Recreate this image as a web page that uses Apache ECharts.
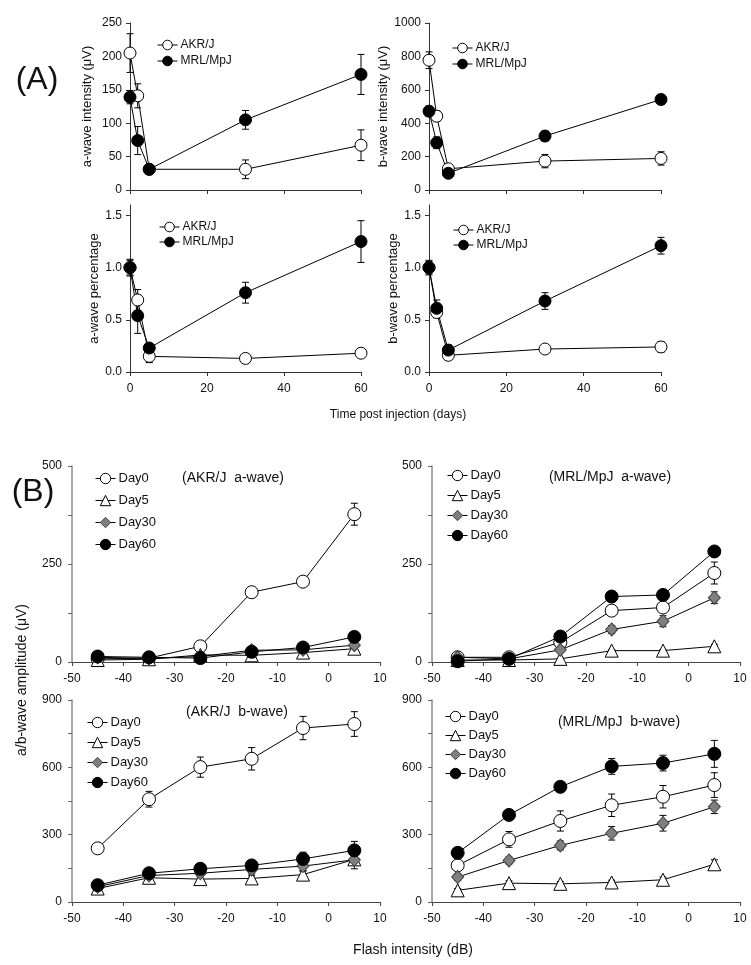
<!DOCTYPE html>
<html><head><meta charset="utf-8">
<script src="https://cdn.jsdelivr.net/npm/echarts@6/dist/echarts.min.js"></script>
<style>html,body{margin:0;padding:0;background:#fff;}#c{width:751px;height:965px;}</style>
</head><body><div id="c"></div>
<script>
const FONT = '"Liberation Sans", Arial, sans-serif';

// ---------- Panel A : time course ----------
const daysA = [0, 2, 5, 30, 60];
const daysTicks = [0, 20, 40, 60];
const aIntAKR = [205, 141, 31, 31, 67];
const aIntAKRErr = [29, 18, 5, 14, 23];
const aIntMRL = [139, 74, 31, 105, 173];
const aIntMRLErr = [10, 21, 5, 14, 30];
const bIntAKR = [777, 442, 127, 173, 189];
const bIntAKRErr = [50, 30, 20, 40, 40];
const bIntMRL = [472, 283, 100, 323, 542];
const bIntMRLErr = [30, 35, 25, 30, 30];
const aPctAKR = [1.0, 0.69, 0.15, 0.13, 0.18];
const aPctAKRErr = [0.07, 0.1, 0.06, 0.02, 0.03];
const aPctMRL = [1.0, 0.54, 0.23, 0.76, 1.25];
const aPctMRLErr = [0.08, 0.17, 0.04, 0.1, 0.2];
const bPctAKR = [1.0, 0.57, 0.16, 0.22, 0.24];
const bPctAKRErr = [0.06, 0.05, 0.03, 0.04, 0.05];
const bPctMRL = [1.0, 0.61, 0.21, 0.68, 1.21];
const bPctMRLErr = [0.07, 0.08, 0.05, 0.08, 0.08];
const aIntTicks = [0, 50, 100, 150, 200, 250];
const bIntTicks = [0, 200, 400, 600, 800, 1000];
const pctTicks = [0, 0.5, 1.0, 1.5];
const pctMax = 1.6;

// ---------- Panel B : intensity response ----------
const flashDB = [-45, -35, -25, -15, -5, 5];
const dbTicks = [-50, -40, -30, -20, -10, 0, 10];
const dayNames = ['Day0', 'Day5', 'Day30', 'Day60'];
const akrA_d0 = [8, 10, 40, 178, 205, 377];
const akrA_d5 = [5, 7, 18, 17, 24, 34];
const akrA_d30 = [12, 9, 14, 30, 31, 43];
const akrA_d60 = [14, 12, 10, 26, 37, 64];
const akrA_d0e = [3, 3, 5, 8, 10, 28];
const akrA_d5e = [2, 2, 3, 3, 4, 6];
const akrA_d30e = [3, 3, 3, 5, 5, 8];
const akrA_d60e = [3, 3, 3, 5, 5, 8];
const mrlA_d0 = [12, 12, 50, 131, 139, 227];
const mrlA_d5 = [5, 5, 8, 29, 29, 40];
const mrlA_d30 = [12, 8, 31, 83, 104, 164];
const mrlA_d60 = [2, 8, 65, 167, 171, 282];
const mrlA_d0e = [3, 3, 5, 8, 10, 28];
const mrlA_d5e = [2, 2, 2, 3, 3, 5];
const mrlA_d30e = [3, 3, 5, 10, 14, 15];
const mrlA_d60e = [3, 3, 5, 8, 8, 10];
const akrB_d0 = [239, 458, 601, 638, 775, 793];
const akrB_d5 = [60, 108, 102, 105, 122, 190];
const akrB_d30 = [68, 118, 128, 145, 160, 188];
const akrB_d60 = [75, 128, 148, 163, 192, 230];
const akrB_d0e = [15, 35, 45, 50, 52, 55];
const akrB_d5e = [10, 12, 12, 12, 15, 25];
const akrB_d30e = [10, 15, 15, 20, 20, 40];
const akrB_d60e = [10, 15, 15, 20, 30, 40];
const mrlB_d0 = [163, 279, 361, 431, 469, 521];
const mrlB_d5 = [52, 84, 81, 87, 99, 168];
const mrlB_d30 = [111, 185, 252, 306, 351, 424];
const mrlB_d60 = [219, 388, 513, 604, 619, 660];
const mrlB_d0e = [20, 35, 45, 50, 50, 55];
const mrlB_d5e = [8, 10, 10, 10, 12, 20];
const mrlB_d30e = [15, 15, 20, 30, 35, 30];
const mrlB_d60e = [20, 20, 15, 35, 35, 60];
const aAmpTicks = [0, 125, 250, 375, 500];
const aAmpLabels = [0, 250, 500];
const bAmpTicks = [0, 150, 300, 450, 600, 750, 900];
const bAmpLabels = [0, 300, 600, 900];

// ---------- styles ----------
const MARK = {
  'AKR/J': {symbol: 'circle', fill: '#fff', stroke: '#000'},
  'MRL/MpJ': {symbol: 'circle', fill: '#000', stroke: '#000'},
  'Day0': {symbol: 'circle', fill: '#fff', stroke: '#000'},
  'Day5': {symbol: 'triangle', fill: '#fff', stroke: '#000'},
  'Day30': {symbol: 'diamond', fill: '#7f7f7f', stroke: '#404040'},
  'Day60': {symbol: 'circle', fill: '#000', stroke: '#000'}
};

function errRender(params, api) {
  const x = api.value(0), y = api.value(1), e = api.value(2);
  const t = api.coord([x, y + e]);
  const b = api.coord([x, y - e]);
  const hw = 3.5;
  const st = {stroke: '#000', lineWidth: 1};
  return {type: 'group', children: [
    {type: 'line', shape: {x1: t[0], y1: t[1], x2: b[0], y2: b[1]}, style: st},
    {type: 'line', shape: {x1: t[0] - hw, y1: t[1], x2: t[0] + hw, y2: t[1]}, style: st},
    {type: 'line', shape: {x1: b[0] - hw, y1: b[1], x2: b[0] + hw, y2: b[1]}, style: st}
  ]};
}

const series = [];
function addSeries(gi, name, xs, ys, es, size) {
  const m = MARK[name];
  series.push({
    type: 'line', name: name, xAxisIndex: gi, yAxisIndex: gi,
    data: xs.map((x, i) => [x, ys[i]]),
    symbol: m.symbol, symbolSize: name === 'Day30' ? [size - 1, size] : size,
    showSymbol: true, showAllSymbol: true,
    lineStyle: {color: '#000', width: 1},
    itemStyle: {color: m.fill, borderColor: m.stroke, borderWidth: 1, opacity: 1},
    emphasis: {disabled: true}, z: 3, animation: false
  });
  series.push({
    type: 'custom', name: name + ' err', xAxisIndex: gi, yAxisIndex: gi,
    data: xs.map((x, i) => [x, ys[i], es[i]]),
    renderItem: errRender, encode: {x: 0, y: 1}, z: 2, silent: true, animation: false
  });
}

// Panel A
addSeries(0, 'AKR/J', daysA, aIntAKR, aIntAKRErr, 12);
addSeries(0, 'MRL/MpJ', daysA, aIntMRL, aIntMRLErr, 12);
addSeries(1, 'AKR/J', daysA, bIntAKR, bIntAKRErr, 12);
addSeries(1, 'MRL/MpJ', daysA, bIntMRL, bIntMRLErr, 12);
addSeries(2, 'AKR/J', daysA, aPctAKR, aPctAKRErr, 12);
addSeries(2, 'MRL/MpJ', daysA, aPctMRL, aPctMRLErr, 12);
addSeries(3, 'AKR/J', daysA, bPctAKR, bPctAKRErr, 12);
addSeries(3, 'MRL/MpJ', daysA, bPctMRL, bPctMRLErr, 12);
// Panel B
const groupsB = [
  [akrA_d0, akrA_d5, akrA_d30, akrA_d60, akrA_d0e, akrA_d5e, akrA_d30e, akrA_d60e],
  [mrlA_d0, mrlA_d5, mrlA_d30, mrlA_d60, mrlA_d0e, mrlA_d5e, mrlA_d30e, mrlA_d60e],
  [akrB_d0, akrB_d5, akrB_d30, akrB_d60, akrB_d0e, akrB_d5e, akrB_d30e, akrB_d60e],
  [mrlB_d0, mrlB_d5, mrlB_d30, mrlB_d60, mrlB_d0e, mrlB_d5e, mrlB_d30e, mrlB_d60e]
];
groupsB.forEach((g, k) => {
  dayNames.forEach((n, j) => addSeries(4 + k, n, flashDB, g[j], g[j + 4], 13));
});

// ---------- layout ----------
const grids = [
  {left: 130, top: 23, width: 231, height: 167},
  {left: 429, top: 23, width: 232, height: 167},
  {left: 130, top: 205, width: 231, height: 167},
  {left: 429, top: 205, width: 232, height: 167},
  {left: 72, top: 466, width: 308, height: 196},
  {left: 432, top: 466, width: 308, height: 196},
  {left: 72, top: 700, width: 308, height: 202},
  {left: 432, top: 700, width: 308, height: 202}
].map(g => Object.assign({outerBoundsMode: 'none', containLabel: false}, g));

const lbl = (show, margin) => ({show: show, fontSize: 12, color: '#111', fontFamily: FONT, margin: margin, formatter: v => String(v)});
const xAxes = [], yAxes = [];
for (let i = 0; i < 4; i++) {
  xAxes.push({type: 'value', gridIndex: i, min: daysTicks[0], max: daysTicks[daysTicks.length - 1],
    interval: daysTicks[1] - daysTicks[0],
    axisLine: {show: true, onZero: false, lineStyle: {color: '#333', width: 1}},
    axisTick: {show: true, length: 4, lineStyle: {color: '#333'}},
    axisLabel: lbl(i >= 2, 11), splitLine: {show: false}});
}
const yA = [
  {ticks: aIntTicks, name: 'a-wave intensity (μV)', gap: 36},
  {ticks: bIntTicks, name: 'b-wave intensity (μV)', gap: 36},
  {ticks: pctTicks, name: 'a-wave percentage', gap: 28, pct: true},
  {ticks: pctTicks, name: 'b-wave percentage', gap: 28, pct: true}
];
yA.forEach((d, i) => {
  const ax = {type: 'value', gridIndex: i, min: 0,
    max: d.pct ? pctMax : d.ticks[d.ticks.length - 1],
    interval: d.ticks[1] - d.ticks[0],
    name: d.name, nameLocation: 'middle', nameGap: d.gap,
    nameTextStyle: {fontSize: 13, color: '#111', fontFamily: FONT},
    axisLine: {show: true, onZero: false, lineStyle: {color: '#333', width: 1}},
    axisTick: {show: true, length: 4, lineStyle: {color: '#333'}},
    axisLabel: lbl(true, 8), splitLine: {show: false}};
  if (d.pct) {
    ax.axisLabel.customValues = d.ticks;
    ax.axisLabel.formatter = v => v.toFixed(1);
    ax.axisTick.customValues = d.ticks;
  }
  yAxes.push(ax);
});
for (let k = 0; k < 4; k++) {
  const gi = 4 + k;
  xAxes.push({type: 'value', gridIndex: gi, min: dbTicks[0], max: dbTicks[dbTicks.length - 1],
    interval: dbTicks[1] - dbTicks[0],
    axisLine: {show: true, onZero: false, lineStyle: {color: '#444', width: 1}},
    axisTick: {show: true, length: 4, lineStyle: {color: '#444'}},
    axisLabel: lbl(true, 11), splitLine: {show: false}});
  const t = k < 2 ? aAmpTicks : bAmpTicks;
  const l = k < 2 ? aAmpLabels : bAmpLabels;
  const ax = {type: 'value', gridIndex: gi, min: 0, max: t[t.length - 1], interval: t[1] - t[0],
    axisLine: {show: true, onZero: false, lineStyle: {color: '#8c8c8c', width: 1.5}},
    axisTick: {show: true, length: 4, lineStyle: {color: '#666'}},
    axisLabel: lbl(true, 10), splitLine: {show: false}};
  ax.axisLabel.customValues = l;
  yAxes.push(ax);
}

// ---------- legends ----------
function legend(names, left, top, gap, fs, ih) {
  return {data: names, left: left, top: top, orient: 'vertical', itemWidth: 20, itemHeight: ih,
    itemGap: gap, padding: 0, selectedMode: false,
    lineStyle: {width: 1},
    itemStyle: {borderWidth: 1},
    textStyle: {fontSize: fs, color: '#111', fontFamily: FONT, padding: [0, 0, 0, -2]}};
}
const strains = ['AKR/J', 'MRL/MpJ'];
const legends = [
  legend(strains, 157, 39, 4, 12, 12),
  legend(strains, 452, 42, 4, 12, 12),
  legend(strains, 159, 221, 3, 12, 12),
  legend(strains, 453, 224, 3, 12, 12),
  legend(dayNames, 95, 472, 9, 13, 13),
  legend(dayNames, 447, 469, 7, 13, 13),
  legend(dayNames, 87, 716, 7, 13, 13),
  legend(dayNames, 445, 710, 6, 13, 13)
];

// ---------- free texts ----------
function txt(s, x, y, size, rot) {
  return {type: 'text', x: x, y: y, rotation: rot || 0, silent: true,
    style: {text: s, fill: '#111', font: size + 'px ' + FONT, align: 'center', verticalAlign: 'middle'}};
}
const graphics = [
  txt('(A)', 37, 80, 32),
  txt('(B)', 33, 492, 32),
  txt('Time post injection (days)', 398, 415, 12),
  txt('Flash intensity (dB)', 413, 950, 14),
  txt('a/b-wave amplitude (μV)', 22, 680, 14, Math.PI / 2),
  txt('(AKR/J  a-wave)', 233, 478, 14),
  txt('(MRL/MpJ  a-wave)', 610, 477, 14),
  txt('(AKR/J  b-wave)', 237, 712, 14),
  txt('(MRL/MpJ  b-wave)', 619, 722, 14)
];

const chart = echarts.init(document.getElementById('c'), null, {renderer: 'canvas'});
chart.setOption({
  backgroundColor: '#fff',
  animation: false,
  textStyle: {fontFamily: FONT},
  grid: grids, xAxis: xAxes, yAxis: yAxes,
  legend: legends, series: series, graphic: graphics
});
</script></body></html>
